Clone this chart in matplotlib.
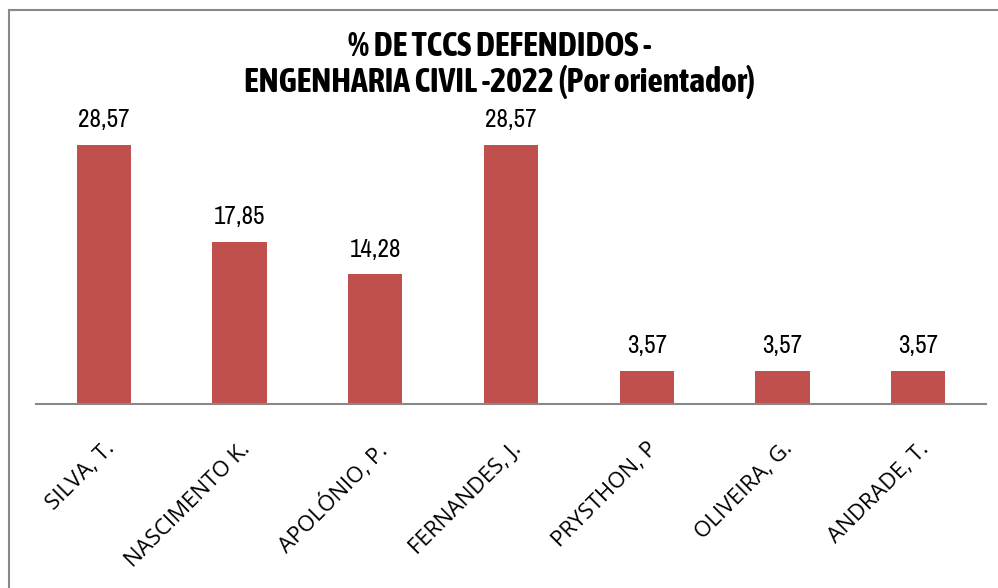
import matplotlib.pyplot as plt
from matplotlib.patches import Rectangle
from matplotlib import font_manager

# dados
orientadores = ["SILVA, T.", "NASCIMENTO K.", "APOLÓNIO, P.", "FERNANDES, J.",
                "PRYSTHON, P", "OLIVEIRA, G.", "ANDRADE, T."]
percentuais = [28.57, 17.85, 14.28, 28.57, 3.57, 3.57, 3.57]
rotulos = ["28,57", "17,85", "14,28", "28,57", "3,57", "3,57", "3,57"]
titulo = ["% DE TCCS DEFENDIDOS -", "ENGENHARIA CIVIL -2022 (Por orientador)"]


def is_narrow(f):
    return "Narrow" in f.name or "Condensed" in f.name


fonts = font_manager.fontManager.ttflist
narrow = next((f.name for f in fonts if is_narrow(f)), "Liberation Sans")
bold_w = {"bold", "heavy", "black", "extra bold", "semibold", "demibold"}
narrow_bold = next((f.name for f in fonts if is_narrow(f)
                    and (str(f.weight).lower() in bold_w
                         or (isinstance(f.weight, int) and f.weight >= 600))), None)
if narrow_bold is None:
    narrow_bold, title_size = "Liberation Sans", 18
else:
    title_size = 24.4

W, H = 998, 588
fig = plt.figure(figsize=(W / 100, H / 100), dpi=100)

# borda do gráfico (só topo e esquerda visíveis)
fig.add_artist(Rectangle((9 / W, -0.1), 1.2, (H - 10) / H + 0.1,
                         transform=fig.transFigure, fill=False,
                         edgecolor="#888888", linewidth=1.5))

base_y = 403.7
top_y = base_y - 30 * 9.055
ax = fig.add_axes([36 / W, (H - base_y) / H, 950 / W, (base_y - top_y) / H])

x = range(len(orientadores))
ax.bar(x, percentuais, width=0.4, color="#C0504D")
ax.set_xlim(-0.5, len(orientadores) - 0.5)
ax.set_ylim(0, 30)

for xi, v, lab in zip(x, percentuais, rotulos):
    ax.annotate(lab, (xi, v), xytext=(0, 10), textcoords="offset points",
                ha="center", va="bottom", fontsize=18, family=narrow)

for s in ["top", "right", "left"]:
    ax.spines[s].set_visible(False)
ax.spines["bottom"].set_color("#888888")
ax.spines["bottom"].set_linewidth(1.5)
ax.set_yticks([])
ax.set_xticks(list(x))
ax.set_xticklabels(orientadores, rotation=45, ha="right", rotation_mode="anchor",
                   fontsize=16, family="Open Sans")
ax.tick_params(axis="x", length=0, pad=25)

for linha, base in zip(titulo, [56, 92]):
    fig.text(500 / W, 1 - base / H, linha, ha="center", va="baseline",
             fontsize=title_size, fontweight="bold", family=narrow_bold)

fig.savefig("out.png", dpi=100)
